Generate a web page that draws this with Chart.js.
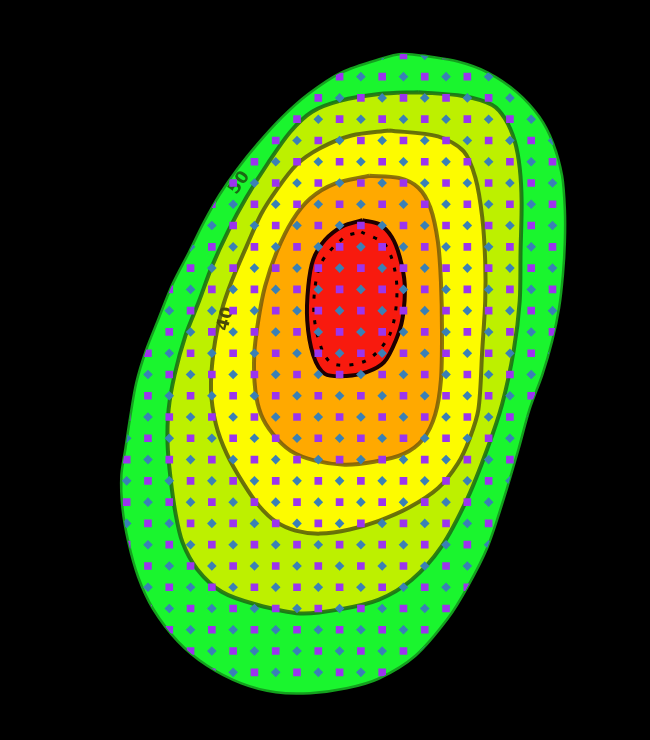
<!DOCTYPE html>
<html>
<head>
<meta charset="utf-8">
<title>Contour map</title>
<script src="https://cdn.jsdelivr.net/npm/chart.js@4.4.1/dist/chart.umd.min.js"></script>
<style>
  html, body { margin: 0; padding: 0; background: #000; }
  canvas { display: block; }
</style>
</head>
<body>
<canvas id="map" width="650" height="740"></canvas>
<script>
// sample grid: column / row index of every sample point
const gridCols = [0, 1, 2, 3, 4, 5, 6, 7, 8, 9, 10, 11, 12, 13, 14, 15, 16, 17, 18, 19, 20, 21];
const gridRows = [0, 1, 2, 3, 4, 5, 6, 7, 8, 9, 10, 11, 12, 13, 14, 15, 16, 17, 18, 19, 20, 21, 22, 23, 24, 25, 26, 27, 28, 29];

// contour rings as [col, row] pairs, outermost first
const ring60 = [[14.93, 0.01], [16.55, 0.29], [17.94, 0.80], [19.32, 1.73], [20.38, 2.89], [21.03, 4.14],
  [21.45, 5.66], [21.58, 7.24], [21.58, 8.77], [21.49, 10.30], [21.31, 11.87], [20.99, 13.40], [20.52, 15.02],
  [19.92, 16.64], [19.41, 18.49], [18.72, 20.81], [17.94, 23.13], [17.01, 24.98], [16.09, 26.46], [14.56, 28.22],
  [12.85, 29.29], [11.33, 29.75], [9.62, 29.98], [8.01, 29.94], [6.39, 29.52], [4.77, 28.68], [3.39, 27.53],
  [2.23, 26.00], [1.54, 24.52], [1.08, 22.89], [0.80, 21.27], [0.75, 19.74], [0.94, 18.49], [1.17, 16.97],
  [1.45, 15.39], [1.91, 13.86], [2.46, 12.47], [3.15, 10.76], [3.94, 9.23], [4.63, 7.84], [5.37, 6.54],
  [6.20, 5.34], [7.17, 4.14], [8.28, 2.93], [9.53, 1.82], [11.10, 0.80], [12.99, 0.15], [13.90, -0.06]];
const ring50 = [[14.70, 1.73], [16.78, 1.91], [18.17, 2.33], [18.77, 2.98], [19.23, 4.04], [19.46, 5.29],
  [19.55, 6.91], [19.50, 9.23], [19.46, 11.55], [19.18, 13.86], [18.63, 16.41], [17.94, 18.49], [17.01, 20.81],
  [15.76, 23.13], [14.38, 24.66], [12.85, 25.58], [11.01, 26.04], [9.16, 26.23], [7.08, 25.81], [5.46, 25.21],
  [4.31, 24.15], [3.62, 22.89], [3.29, 21.51], [3.06, 19.88], [2.92, 18.26], [2.97, 16.64], [3.25, 15.02],
  [3.76, 13.17], [4.40, 11.55], [5.00, 9.93], [5.79, 8.21], [6.62, 6.68], [7.64, 5.06], [8.70, 3.58],
  [9.71, 2.65], [11.01, 2.14], [12.85, 1.82]];
const ring40 = [[13.32, 3.53], [15.62, 3.81], [16.83, 4.51], [17.38, 5.76], [17.70, 7.61], [17.84, 9.69],
  [17.84, 11.55], [17.70, 13.86], [17.52, 16.64], [17.10, 18.03], [16.55, 19.19], [15.62, 20.35], [14.24, 21.27],
  [12.85, 21.88], [11.47, 22.29], [10.08, 22.48], [8.93, 22.34], [8.01, 21.92], [7.22, 21.18], [6.48, 20.12],
  [5.70, 18.73], [5.19, 17.34], [4.96, 15.72], [5.09, 13.86], [5.46, 12.01], [5.93, 10.62], [6.62, 9.00],
  [7.31, 7.47], [8.05, 6.31], [8.97, 5.15], [10.08, 4.37], [11.56, 3.77]];
const ring30 = [[12.39, 5.66], [13.78, 5.76], [14.70, 6.22], [15.26, 7.15], [15.62, 8.77], [15.76, 10.62],
  [15.81, 12.94], [15.76, 15.26], [15.49, 16.88], [14.93, 18.03], [14.01, 18.73], [12.62, 19.10], [11.24, 19.24],
  [9.85, 19.05], [8.70, 18.59], [7.87, 17.80], [7.31, 16.88], [7.04, 15.72], [6.99, 14.09], [7.18, 12.47],
  [7.50, 10.85], [8.05, 9.23], [8.79, 7.75], [9.62, 6.73], [10.78, 6.03]];
const ring20 = [[12.07, 7.75], [12.85, 7.93], [13.45, 8.54], [13.82, 9.46], [14.06, 10.76], [13.96, 12.34],
  [13.64, 13.40], [13.09, 14.42], [12.30, 14.88], [11.33, 15.07], [10.31, 14.97], [9.76, 14.09], [9.48, 12.47],
  [9.53, 10.85], [9.76, 9.60], [10.31, 8.68], [11.15, 8.03]];
const ring15 = [[12.02, 8.30], [13.18, 8.95], [13.69, 10.85], [13.36, 13.12], [12.20, 14.37], [10.55, 14.42],
  [9.81, 12.34], [10.08, 9.88], [11.24, 8.54]];

// contour labels and where they sit
const labelText = ['50', '40'];
const labelAt = [[6.30, 6.00], [5.66, 12.39]];

const closeRing = ring => [...ring, ring[0]].map(([x, y]) => ({ x, y }));

const squares = [];
const diamonds = [];
gridRows.forEach(r => gridCols.forEach(c => ((r + c) % 2 === 0 ? squares : diamonds).push({ x: c, y: r })));

function contour(data, band, line, width, order) {
  return {
    data: closeRing(data),
    bandColor: band,
    borderColor: line,
    borderWidth: width,
    borderJoinStyle: 'round',
    tension: 0.3,
    pointRadius: 0,
    fill: false,
    order: order
  };
}

const datasets = [
  contour(ring60, '#1af52e', '#14a01e', 2.5, 7),
  contour(ring50, '#bdf000', 'rgba(25,105,20,0.85)', 4, 6),
  contour(ring40, '#fdfb00', 'rgba(85,90,10,0.85)', 4, 5),
  contour(ring30, '#ffa900', 'rgba(110,85,10,0.8)', 4, 4),
  contour(ring20, '#f81a0e', '#1e0000', 4, 3),
  Object.assign(contour(ring15, null, '#000', 3, 2), { borderDash: [4, 9], drawLabels: true }),
  {
    data: squares, showLine: false, clipToEdge: true, order: 0,
    pointStyle: 'rect', pointRadius: 5.4, pointBackgroundColor: '#9b34ee', pointBorderWidth: 0
  },
  {
    data: diamonds, showLine: false, clipToEdge: true, order: 0,
    pointStyle: 'rectRot', pointRadius: 4.8, pointBackgroundColor: '#3a80b5', pointBorderWidth: 0
  }
];

const labelAngle = [-55, -75];
const labelColor = ['#1a6a14', '#4a4a08'];

// fills each ring, clips the grid marks to the outer ring, writes the labels
const contourPlugin = {
  id: 'contourPlugin',
  beforeDatasetDraw(chart, args) {
    const ds = chart.data.datasets[args.index];
    const ctx = chart.ctx;
    if (ds.bandColor) {
      ctx.save();
      ctx.beginPath();
      args.meta.dataset.path(ctx);
      ctx.closePath();
      ctx.fillStyle = ds.bandColor;
      ctx.fill();
      ctx.restore();
    }
    if (ds.clipToEdge) {
      ctx.save();
      ctx.beginPath();
      chart.getDatasetMeta(0).dataset.path(ctx);
      ctx.closePath();
      ctx.clip();
    }
  },
  afterDatasetDraw(chart, args) {
    const ds = chart.data.datasets[args.index];
    const ctx = chart.ctx;
    if (ds.clipToEdge) ctx.restore();
    if (ds.drawLabels) {
      const { x, y } = chart.scales;
      labelText.forEach((t, i) => {
        ctx.save();
        ctx.translate(x.getPixelForValue(labelAt[i][0]), y.getPixelForValue(labelAt[i][1]));
        ctx.rotate(labelAngle[i] * Math.PI / 180);
        ctx.font = 'bold 17px "DejaVu Sans"';
        ctx.fillStyle = labelColor[i];
        ctx.textAlign = 'center';
        ctx.textBaseline = 'middle';
        ctx.fillText(t, 0, 0);
        ctx.restore();
      });
    }
  }
};

new Chart(document.getElementById('map'), {
  type: 'line',
  data: { datasets },
  options: {
    responsive: false,
    animation: false,
    events: [],
    layout: { padding: 0 },
    plugins: { legend: { display: false }, tooltip: { enabled: false } },
    scales: {
      x: { type: 'linear', display: false, min: -4.697, max: 25.326 },
      y: { type: 'linear', display: false, reverse: true, min: -2.348, max: 31.927 }
    }
  },
  plugins: [contourPlugin]
});
</script>
</body>
</html>
